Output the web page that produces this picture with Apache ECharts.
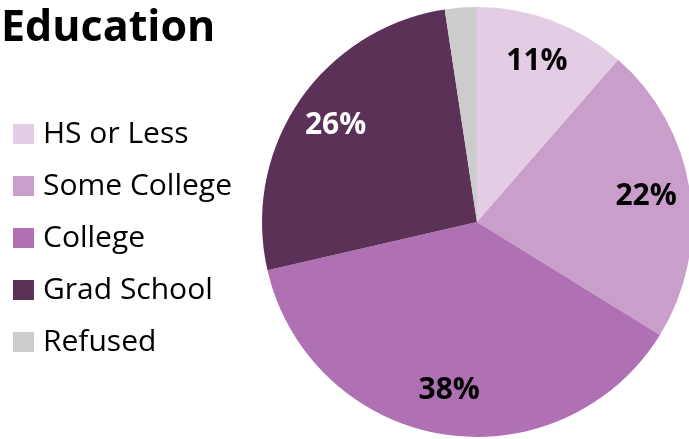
<!DOCTYPE html>
<html><head><meta charset="utf-8">
<script src="https://cdn.jsdelivr.net/npm/echarts@6/dist/echarts.min.js"></script>
<style>html,body{margin:0;padding:0;background:#fff}#c{width:689px;height:439px}</style>
</head><body><div id="c"></div>
<script>
const categories = ['HS or Less', 'Some College', 'College', 'Grad School', 'Refused'];
const values = [11.4, 22.4, 37.6, 26.2, 2.4];
const colors = ['#E4CCE4', '#C99ECB', '#B070B4', '#5B3158', '#CCCCCC'];
const labelColors = ['#000', '#000', '#000', '#fff', '#000'];
const showLabel = [true, true, true, true, false];

const font = '"Open Sans", "Liberation Sans", sans-serif';
const chart = echarts.init(document.getElementById('c'));
const data = categories.map((n, i) => ({ name: n, value: values[i], itemStyle: { color: colors[i] } }));
const labelData = categories.map((n, i) => ({ name: n, value: values[i], label: { show: showLabel[i], color: labelColors[i] } }));
chart.setOption({
  animation: false,
  title: { text: 'Education', left: -4, top: 2, textStyle: { fontFamily: font, fontWeight: 'bold', fontSize: 43, color: '#000' } },
  legend: {
    orient: 'vertical', left: 8, top: 114, icon: 'rect', itemWidth: 21, itemHeight: 20, itemGap: 22,
    textStyle: { fontFamily: font, fontSize: 30, color: '#000', padding: [0, 0, 0, 4] },
    data: categories
  },
  series: [
    {
      type: 'pie', center: [477, 222], radius: [0, 215], startAngle: 90, clockwise: true,
      label: { show: false }, labelLine: { show: false }, silent: true, data: data
    },
    {
      type: 'pie', center: [477, 222], radius: [0, 336], startAngle: 90, clockwise: true,
      silent: true, legendHoverLink: false,
      itemStyle: { color: 'rgba(0,0,0,0)' },
      label: { show: true, position: 'inside', fontFamily: font, fontWeight: 'bold', fontSize: 30,
        formatter: p => Math.round(p.value) + '%' },
      labelLine: { show: false },
      data: labelData
    }
  ]
});
</script></body></html>
